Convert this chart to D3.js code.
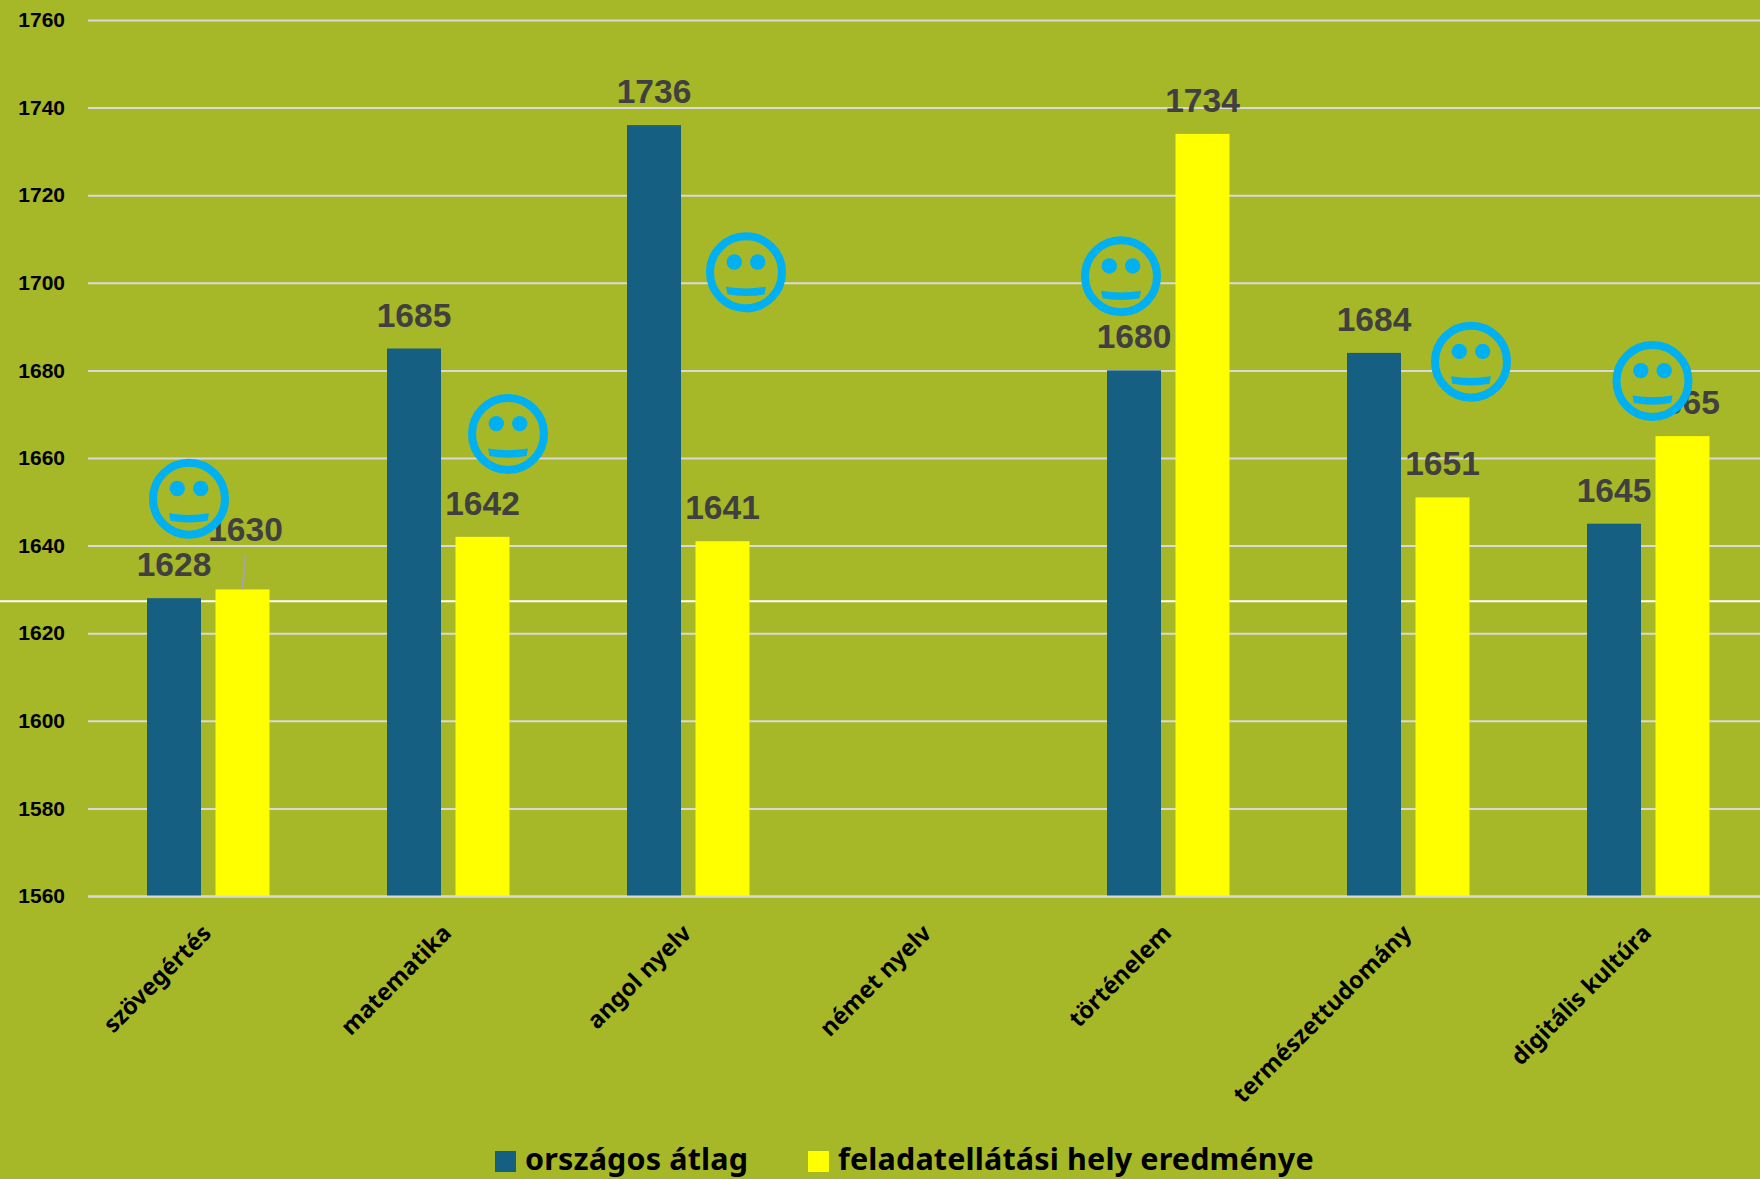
<!DOCTYPE html>
<html><head><meta charset="utf-8">
<script src="https://cdn.jsdelivr.net/npm/d3@7"></script>
<style>html,body{margin:0;padding:0;background:#A6B727;overflow:hidden}svg{display:block}</style>
</head><body><svg id="c" width="1760" height="1179"></svg>
<script>
const categories=["szövegértés","matematika","angol nyelv","német nyelv","történelem","természettudomány","digitális kultúra"];
const seriesNames=["országos átlag","feladatellátási hely eredménye"];
const seriesColors=["#156082","#FFFF00"];
const national=[1628,1685,1736,null,1680,1684,1645];
const local=[1630,1642,1641,null,1734,1651,1665];
const yTicks=d3.range(1560,1761,20);
const referenceValue=1627.3;
// smiley annotations: category, horizontal offset from the group centre, level on the value axis
const smileys=[["szövegértés",-19,1650.7],["matematika",60,1665.5],["angol nyelv",58,1702.4],["történelem",-47,1701.5],["természettudomány",63,1682],["digitális kultúra",4.5,1677.6]];

const W=1760,H=1179,L=88,R=1768,T=20,B=896;
const svg=d3.select("#c");
svg.append("rect").attr("width",W).attr("height",H).attr("fill","#A6B727");
const x=d3.scaleBand().domain(categories).range([L,R]).padding(0);
const y=d3.scaleLinear().domain([1560,1760]).range([B,T]);
const barW=54,gap=15;

// y axis + gridlines
const gy=svg.append("g").attr("transform",`translate(${L},0)`)
  .call(d3.axisLeft(y).tickValues(yTicks).tickFormat(d3.format("d")).tickSize(-(R-L)).tickPadding(23));
gy.select(".domain").remove();
gy.selectAll(".tick line").attr("stroke","#D9D9D9").attr("stroke-width",2);
gy.selectAll(".tick text").attr("fill","#000").attr("font-family","Liberation Sans").attr("font-weight",700).attr("font-size",21);

// reference line
svg.append("line").attr("x1",0).attr("x2",W).attr("y1",y(referenceValue)).attr("y2",y(referenceValue)).attr("stroke","#fff").attr("stroke-width",2);

// bars
const series=[national,local];
const offs=[-(barW+gap/2)+0.5,gap/2];
series.forEach((vals,s)=>{
  const rows=categories.map((c,i)=>({c,v:vals[i]})).filter(d=>d.v!=null);
  svg.append("g").selectAll("rect").data(rows).join("rect")
    .attr("x",d=>x(d.c)+x.bandwidth()/2+offs[s]).attr("width",barW)
    .attr("y",d=>y(d.v)).attr("height",d=>y(1560)-y(d.v)).attr("fill",seriesColors[s]);
});
// baseline over the bars
svg.append("line").attr("x1",L).attr("x2",W).attr("y1",y(1560)+0.5).attr("y2",y(1560)+0.5).attr("stroke","#D9D9D9").attr("stroke-width",2);

// leader line for the moved label
const c0=x(categories[0])+x.bandwidth()/2+offs[1]+barW/2;
svg.append("line").attr("x1",c0+3).attr("y1",y(local[0])-34).attr("x2",c0).attr("y2",y(local[0])).attr("stroke","#A6A6A6").attr("stroke-width",2);

// data labels, drawn under the smileys
series.forEach((vals,s)=>{
  const rows=categories.map((c,i)=>({c,v:vals[i],i})).filter(d=>d.v!=null);
  svg.append("g").selectAll("text").data(rows).join("text")
    .attr("x",d=>x(d.c)+x.bandwidth()/2+offs[s]+barW/2+((s===1&&d.i===0)?3:0))
    .attr("y",d=>y(d.v)-22-((s===1&&d.i===0)?26:0))
    .attr("text-anchor","middle").attr("fill","#404040")
    .attr("font-family","Liberation Sans").attr("font-weight",700).attr("font-size",33.5)
    .text(d=>d.v);
});

// x axis labels
const gx=svg.append("g").attr("transform",`translate(0,${B})`)
  .call(d3.axisBottom(x).tickSize(0).tickFormat(d=>d));
gx.select(".domain").remove();
gx.selectAll(".tick text").attr("text-anchor","end").attr("dy",0).attr("y",0)
  .attr("transform","translate(-1,33) rotate(-45) translate(0,8)")
  .attr("fill","#000").attr("font-family","Noto Sans").attr("font-weight",700).attr("font-size",23.5);

// smileys
const sm=svg.append("g").selectAll("g").data(smileys).join("g")
  .attr("transform",d=>`translate(${x(d[0])+x.bandwidth()/2+d[1]},${y(d[2])})`);
sm.append("circle").attr("r",36).attr("fill","#A6B727").attr("stroke","#00B0F0").attr("stroke-width",8);
sm.selectAll(".eye").data([-11.7,11.7]).join("circle").attr("class","eye").attr("cx",d=>d).attr("cy",-10.3).attr("r",7.7).attr("fill","#00B0F0");
sm.append("path").attr("d","M-20,14.5 Q0,18 20,14.5 L18.5,22 Q0,25.5 -18.5,22 Z").attr("fill","#00B0F0");

// legend
const lx=[495,808],tx=[525,838];
const lg=svg.append("g").selectAll("g").data(seriesNames).join("g");
lg.append("rect").attr("x",(d,i)=>lx[i]).attr("y",1151).attr("width",21).attr("height",21).attr("fill",(d,i)=>seriesColors[i]);
lg.append("text").attr("x",(d,i)=>tx[i]).attr("y",1170).attr("fill","#000")
  .attr("font-family","Noto Sans").attr("font-weight",700).attr("font-size",30.5).attr("letter-spacing",0.15).text(d=>d);
</script></body></html>
